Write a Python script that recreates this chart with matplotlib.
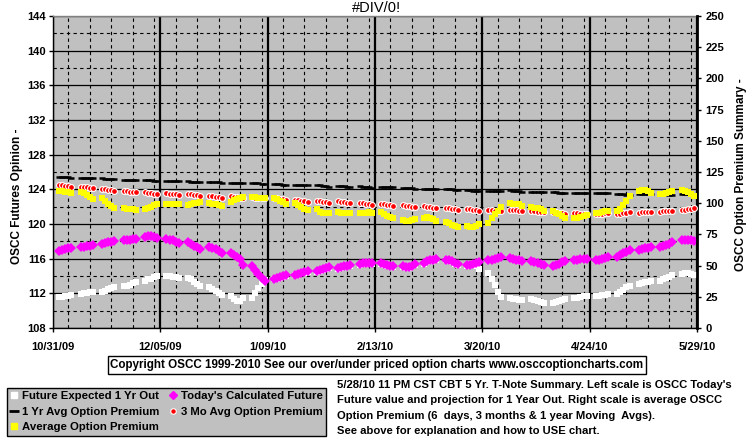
import datetime as dt
import numpy as np
import pandas as pd
import matplotlib
matplotlib.use("Agg")
import matplotlib.pyplot as plt
import matplotlib.dates as mdates
from matplotlib.ticker import FixedLocator, MultipleLocator
from matplotlib.lines import Line2D

plt.rcParams['font.family'] = ['Liberation Sans', 'DejaVu Sans']

# ---------------- data (one row of 5 weekday values per week) ----------------
first_day = "2009-11-02"
last_day = "2010-05-28"

future_1yr = [  # Future Expected 1 Yr Out (left scale)
    111.6, 111.6, 111.7, 111.7, 111.8,
    111.9, 112.0, 112.0, 112.1, 112.2,
    112.2, 112.3, 112.5, 112.6, 112.7,
    112.8, 112.9, 113.0, 113.2, 113.3,
    113.4, 113.6, 113.7, 113.9, 114.0,
    114.0, 114.0, 113.9, 113.9, 113.8,
    113.8, 113.6, 113.3, 113.1, 112.8,
    112.7, 112.5, 112.3, 112.0, 111.8,
    111.7, 111.3, 111.1, 111.1, 111.5,
    111.5, 112.0, 112.6, 113.1, 113.5,
    113.6, 113.7, 113.8, 113.9, 114.0,
    114.1, 114.2, 114.3, 114.4, 114.5,
    114.5, 114.6, 114.7, 114.8, 114.9,
    114.8, 114.9, 115.0, 115.1, 115.2,
    115.3, 115.4, 115.4, 115.4, 115.4,
    115.4, 115.3, 115.2, 115.1, 115.0,
    115.0, 114.9, 114.9, 115.1, 115.3,
    115.4, 115.6, 115.7, 115.8, 115.9,
    115.8, 115.7, 115.6, 115.4, 115.3,
    115.2, 115.3, 115.3, 115.2, 114.8,
    114.3, 113.7, 113.0, 112.2, 111.6,
    111.5, 111.4, 111.3, 111.2, 111.2,
    111.3, 111.2, 111.1, 111.0, 110.9,
    110.9, 111.0, 111.1, 111.2, 111.4,
    111.5, 111.5, 111.6, 111.7, 111.7,
    111.7, 111.7, 111.8, 111.8, 111.9,
    111.9, 112.1, 112.4, 112.7, 112.9,
    113.1, 113.2, 113.3, 113.3, 113.4,
    113.4, 113.6, 113.8, 113.9, 114.1,
    114.2, 114.3, 114.3, 114.2, 114.1,
]

todays_future = [  # Today's Calculated Future (left scale)
    116.9, 117.0, 117.1, 117.2, 117.2,
    117.3, 117.4, 117.5, 117.5, 117.6,
    117.7, 117.8, 117.9, 117.9, 118.0,
    118.1, 118.2, 118.2, 118.3, 118.3,
    118.5, 118.6, 118.6, 118.5, 118.4,
    118.3, 118.2, 118.1, 117.9, 117.8,
    117.9, 117.7, 117.5, 117.3, 117.1,
    117.3, 117.2, 117.1, 116.9, 116.7,
    116.6, 116.4, 116.2, 116.0, 115.3,
    115.1, 114.7, 114.2, 113.8, 113.4,
    113.7, 113.8, 113.9, 114.0, 114.15,
    114.15, 114.25, 114.35, 114.45, 114.55,
    114.6, 114.7, 114.8, 114.9, 115.0,
    114.9, 115.0, 115.1, 115.2, 115.3,
    115.4, 115.5, 115.5, 115.5, 115.5,
    115.5, 115.4, 115.3, 115.2, 115.1,
    115.1, 115.0, 115.0, 115.2, 115.4,
    115.5, 115.7, 115.8, 115.9, 116.0,
    115.9, 115.8, 115.7, 115.5, 115.4,
    115.3, 115.3, 115.4, 115.5, 115.6,
    115.8, 115.9, 116.0, 116.1, 116.2,
    116.1, 116.0, 115.9, 115.8, 115.7,
    115.7, 115.6, 115.5, 115.4, 115.3,
    115.2, 115.3, 115.4, 115.6, 115.7,
    115.9, 115.9, 116.0, 116.0, 116.0,
    115.8, 115.9, 116.0, 116.1, 116.2,
    116.2, 116.4, 116.6, 116.8, 117.05,
    117.05, 117.1, 117.2, 117.25, 117.3,
    117.3, 117.5, 117.6, 117.7, 117.9,
    118.2, 118.2, 118.1, 118.1, 118.0,
]

avg_1yr = [  # 1 Yr Avg Option Premium (right scale)
    120.7, 120.7, 120.6, 120.6, 120.5,
    120.5, 120.3, 120.2, 120.0, 119.9,
    119.8, 119.6, 119.4, 119.3, 119.1,
    118.9, 118.8, 118.7, 118.6, 118.5,
    118.5, 118.4, 118.3, 118.1, 118.0,
    117.9, 117.8, 117.8, 117.7, 117.6,
    117.4, 117.3, 117.2, 117.1, 117.0,
    116.9, 116.8, 116.7, 116.6, 116.5,
    116.5, 116.4, 116.4, 116.3, 116.2,
    116.2, 116.0, 115.9, 115.7, 115.5,
    115.4, 115.2, 115.0, 114.8, 114.6,
    114.6, 114.6, 114.5, 114.5, 114.4,
    114.4, 114.2, 113.9, 113.6, 113.3,
    113.8, 113.6, 113.5, 113.3, 113.2,
    113.4, 113.2, 112.9, 112.6, 112.3,
    113.0, 112.9, 112.8, 112.8, 112.7,
    112.4, 112.2, 112.0, 111.8, 111.6,
    111.7, 111.6, 111.6, 111.5, 111.5,
    111.6, 111.3, 111.0, 110.8, 110.6,
    110.5, 110.3, 110.1, 109.9, 109.8,
    110.0, 110.0, 110.0, 109.9, 109.8,
    110.4, 110.1, 109.8, 109.5, 109.2,
    109.2, 109.2, 109.2, 109.1, 109.1,
    109.2, 108.9, 108.5, 108.2, 107.9,
    107.9, 107.9, 107.9, 107.9, 107.8,
    107.9, 107.9, 107.9, 107.8, 107.8,
    107.6, 107.4, 107.1, 106.9, 106.6,
    107.2, 107.1, 107.1, 107.0, 107.0,
    107.4, 107.2, 107.0, 106.8, 106.6,
    107.2, 107.1, 107.0, 107.0, 106.9,
]

avg_3mo = [  # 3 Mo Avg Option Premium (right scale)
    114.8, 114.4, 114.0, 113.6, 113.3,
    113.3, 112.9, 112.6, 112.3, 111.9,
    111.3, 111.0, 110.6, 110.3, 110.0,
    109.9, 109.6, 109.2, 108.9, 108.6,
    108.7, 108.4, 108.0, 107.7, 107.4,
    108.0, 107.7, 107.4, 107.2, 106.9,
    107.3, 107.0, 106.6, 106.3, 105.9,
    105.9, 105.6, 105.2, 104.8, 104.5,
    105.4, 105.1, 104.8, 104.5, 104.2,
    104.6, 104.4, 104.2, 104.0, 103.8,
    104.2, 103.8, 103.4, 103.0, 102.6,
    102.8, 102.4, 102.0, 101.6, 101.2,
    102.0, 101.6, 101.2, 100.8, 100.4,
    101.4, 101.0, 100.7, 100.3, 99.9,
    100.4, 100.0, 99.6, 99.2, 98.8,
    99.4, 99.0, 98.6, 98.2, 97.8,
    98.2, 97.9, 97.6, 97.3, 97.0,
    97.5, 97.2, 96.8, 96.4, 96.0,
    96.3, 96.0, 95.6, 95.2, 94.8,
    95.3, 95.0, 94.6, 94.2, 93.9,
    94.6, 94.3, 94.0, 93.7, 93.4,
    94.5, 94.4, 94.2, 94.0, 93.9,
    93.8, 93.5, 93.2, 92.9, 92.6,
    92.9, 92.6, 92.3, 92.0, 91.7,
    92.0, 91.8, 91.5, 91.3, 91.0,
    91.5, 91.6, 91.7, 91.8, 91.9,
    91.4, 91.6, 91.9, 92.2, 92.6,
    92.4, 92.6, 92.8, 93.0, 93.2,
    93.2, 93.4, 93.6, 93.8, 94.0,
    94.6, 94.9, 95.2, 95.5, 95.8,
]

avg_premium = [  # Average Option Premium (right scale)
    110.0, 109.7, 109.2, 108.6, 108.0,
    109.2, 108.0, 106.5, 104.8, 103.0,
    103.8, 101.8, 99.5, 97.5, 95.8,
    95.8, 95.2, 95.0, 95.0, 94.6,
    95.0, 95.8, 97.0, 98.2, 99.0,
    99.0, 99.0, 99.0, 99.0, 99.0,
    98.7, 99.2, 99.8, 100.3, 100.6,
    100.0, 99.6, 99.0, 98.3, 97.7,
    101.3, 102.3, 103.3, 104.2, 105.0,
    104.8, 104.8, 104.5, 104.2, 103.8,
    104.0, 103.0, 101.8, 100.6, 99.6,
    100.0, 98.5, 97.0, 95.5, 94.3,
    95.0, 93.2, 92.5, 92.5, 92.5,
    93.0, 92.5, 92.5, 92.5, 92.5,
    92.0, 92.0, 92.5, 93.0, 92.5,
    93.3, 91.5, 90.0, 88.8, 87.8,
    86.5, 86.0, 86.0, 86.5, 87.0,
    88.0, 88.8, 88.5, 87.5, 86.0,
    85.0, 84.0, 82.8, 81.8, 80.8,
    81.5, 81.0, 81.0, 82.0, 83.0,
    84.5, 88.0, 91.0, 94.0, 97.0,
    100.0, 99.5, 99.5, 99.0, 98.0,
    97.0, 96.5, 96.0, 95.0, 94.0,
    93.5, 92.5, 91.5, 89.5, 88.5,
    88.5, 88.5, 89.0, 89.5, 90.5,
    92.0, 92.5, 93.0, 93.5, 94.0,
    93.5, 95.5, 98.5, 102.0, 105.5,
    109.5, 110.5, 110.5, 110.0, 108.5,
    107.3, 107.5, 108.3, 109.2, 110.0,
    110.2, 109.8, 109.0, 107.5, 106.0,
]

x_tick_dates = ["2009-10-31", "2009-12-05", "2010-01-09", "2010-02-13",
                "2010-03-20", "2010-04-24", "2010-05-29"]
x_tick_labels = ["10/31/09", "12/05/09", "1/09/10", "2/13/10",
                 "3/20/10", "4/24/10", "5/29/10"]
left_ticks = [108, 112, 116, 120, 124, 128, 132, 136, 140, 144]
right_ticks = [0, 25, 50, 75, 100, 125, 150, 175, 200, 225, 250]

title = "#DIV/0!"
left_label = "OSCC Futures Opinion -"
right_label = "OSCC Option Premium Summary -"
legend_labels = ["Future Expected 1 Yr Out", "1 Yr Avg Option Premium",
                 "Average Option Premium", "Today's Calculated Future",
                 "3 Mo Avg Option Premium"]
copyright_text = ("Copyright OSCC 1999-2010 See our over/under priced option "
                  "charts www.osccoptioncharts.com")
note_lines = ["5/28/10 11 PM CST CBT 5 Yr. T-Note Summary. Left scale is OSCC Today's",
              "Future value and projection for 1 Year Out. Right scale is average OSCC",
              "Option Premium (6  days, 3 months & 1 year Moving  Avgs).",
              "See above for explanation and how to USE chart."]

# ---------------- figure ----------------
W, H = 755, 446
fig = plt.figure(figsize=(W / 100, H / 100), dpi=100)
fig.patch.set_facecolor("white")

dates = pd.bdate_range(first_day, last_day)
xd = mdates.date2num(dates.to_pydatetime())
ticks_num = mdates.date2num([dt.datetime.strptime(d, "%Y-%m-%d") for d in x_tick_dates])

ax = fig.add_axes([53 / W, 1 - 328 / H, 644 / W, 312 / H])
ax.set_facecolor("#C0C0C0")
ax.set_xlim(ticks_num[0], ticks_num[-1])
ax.set_ylim(left_ticks[0], left_ticks[-1])

ax.xaxis.set_major_locator(FixedLocator(ticks_num))
ax.xaxis.set_minor_locator(MultipleLocator(7))
ax.set_xticklabels(x_tick_labels)
ax.yaxis.set_major_locator(FixedLocator(left_ticks))
ax.yaxis.set_minor_locator(MultipleLocator(2))

ax.set_axisbelow(True)
ax.grid(which="major", axis="x", color="black", lw=1.6)
ax.grid(which="minor", axis="x", color="black", lw=0.8, ls=(0, (3, 3)))
ax.grid(which="major", axis="y", color="black", lw=0.9)
ax.grid(which="minor", axis="y", color="black", lw=0.8, ls=(0, (3, 3)))

ax.tick_params(axis="both", which="minor", length=0)
ax.tick_params(axis="both", which="major", length=3, width=1, direction="out",
               labelsize=8, pad=2)
ax.tick_params(axis="x", which="major", pad=7)
for lab in ax.get_xticklabels() + ax.get_yticklabels():
    lab.set_fontweight("bold")

for s in ["left", "bottom"]:
    ax.spines[s].set_color("black")
    ax.spines[s].set_linewidth(1.0)
ax.spines["top"].set_color("#808080")
ax.spines["top"].set_linewidth(1.0)
ax.spines["right"].set_visible(False)

ax.plot(xd, future_1yr, ls="none", marker="s", ms=4.0, mfc="white", mec="white",
        mew=0, label=legend_labels[0], zorder=3)
ax.plot(xd, todays_future, ls="none", marker="D", ms=5.0, mfc="#FF00FF", mec="#FF00FF",
        mew=0, label=legend_labels[3], zorder=4)

ax2 = ax.twinx()
ax2.set_ylim(right_ticks[0], right_ticks[-1])
ax2.yaxis.set_major_locator(FixedLocator(right_ticks))
ax2.tick_params(axis="y", which="major", length=3, width=1, direction="out",
                labelsize=8, pad=3)
for lab in ax2.get_yticklabels():
    lab.set_fontweight("bold")
for s in ["left", "top", "bottom"]:
    ax2.spines[s].set_visible(False)
ax2.spines["right"].set_color("black")
ax2.spines["right"].set_linewidth(2.0)

ax2.plot(xd, avg_1yr, ls="none", marker="_", ms=4.0, mec="black", mew=1.8,
         label=legend_labels[1], zorder=3)
ax2.plot(xd, avg_3mo, ls="none", marker="o", ms=4.2, mfc="red", mec="white",
         mew=0.8, label=legend_labels[4], zorder=4)
ax2.plot(xd, avg_premium, ls="none", marker="s", ms=3.8, mfc="yellow", mec="yellow",
         mew=0, label=legend_labels[2], zorder=5)

# title & axis labels
fig.text(376 / W, 1 - 8 / H, title, ha="center", va="center", fontsize=10.5)
fig.text(17 / W, 1 - 196 / H, left_label, rotation=90, ha="center", va="center",
         fontsize=8.5, fontweight="bold")
fig.text(741 / W, 1 - 175 / H, right_label, rotation=90, ha="center", va="center",
         fontsize=8.5, fontweight="bold")

# copyright box
fig.text(377 / W, 1 - 365 / H, copyright_text, ha="center", va="center",
         fontsize=8.4, fontweight="bold",
         bbox=dict(boxstyle="square,pad=0.25", fc="white", ec="black", lw=1))

# legend
handles = [
    Line2D([], [], ls="none", marker="s", ms=5, mfc="white", mec="white"),
    Line2D([], [], ls="none", marker="_", ms=7, mec="black", mew=2),
    Line2D([], [], ls="none", marker="s", ms=4, mfc="yellow", mec="yellow"),
    Line2D([], [], ls="none", marker="D", ms=4, mfc="#FF00FF", mec="#FF00FF"),
    Line2D([], [], ls="none", marker="o", ms=4, mfc="red", mec="white", mew=0.8),
]
leg = fig.legend(handles, legend_labels, loc="upper left",
                 bbox_to_anchor=(7 / W, 1 - 388 / H), ncol=2, frameon=True,
                 fancybox=False, shadow=False, borderaxespad=0,
                 prop=dict(size=8.2, weight="bold"), handlelength=0.6,
                 handletextpad=0.4, labelspacing=0.48, columnspacing=0.9,
                 borderpad=0.3)
leg.get_frame().set_facecolor("#C0C0C0")
leg.get_frame().set_edgecolor("black")
leg.get_frame().set_linewidth(1.0)
leg.get_frame().set_alpha(1)

note_y = [385, 400, 416, 431]
for line, yy in zip(note_lines, note_y):
    fig.text(337 / W, 1 - yy / H, line, ha="left", va="center", fontsize=8.15,
             fontweight="bold")

fig.savefig("out.png", dpi=100, facecolor="white")
